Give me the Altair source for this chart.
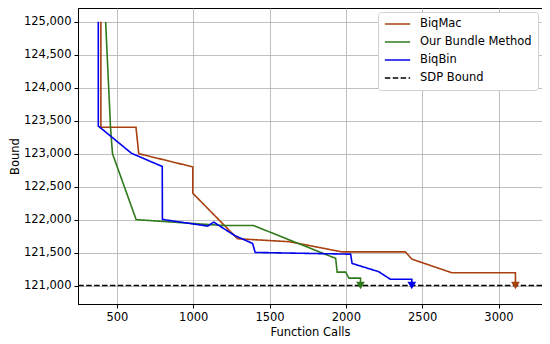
import altair as alt
import pandas as pd

series_names = ["BiqMac", "Our Bundle Method", "BiqBin", "SDP Bound"]
series_colors = ["#a8400f", "#2f7a1a", "#0000ee", "#000000"]

biqmac_x = [395, 395, 625, 643, 997, 997, 1290, 1630, 1975, 2390, 2433, 2693, 3111, 3111]
biqmac_y = [125000, 123400, 123400, 123000, 122800, 122400, 121710, 121665, 121510, 121510, 121400, 121195, 121195, 121000]

bundle_x = [426, 458, 471, 626, 1200, 1395, 1933, 1943, 1998, 2020, 2096, 2096]
bundle_y = [125000, 123400, 123000, 122000, 121910, 121910, 121412, 121203, 121203, 121112, 121112, 121000]

biqbin_x = [378, 378, 595, 797, 798, 1095, 1134, 1269, 1389, 1406, 2031, 2041, 2215, 2291, 2432, 2432]
biqbin_y = [125000, 123420, 123007, 122806, 122003, 121902, 121962, 121762, 121638, 121502, 121476, 121335, 121210, 121096, 121096, 121000]

sdp_bound = 121000

x_ticks = [500, 1000, 1500, 2000, 2500, 3000]
y_ticks = [121000, 121500, 122000, 122500, 123000, 123500, 124000, 124500, 125000]

rows = []
for name, xs, ys in [("BiqMac", biqmac_x, biqmac_y),
                     ("Our Bundle Method", bundle_x, bundle_y),
                     ("BiqBin", biqbin_x, biqbin_y)]:
    for i, (xv, yv) in enumerate(zip(xs, ys)):
        rows.append({"series": name, "x": xv, "y": yv, "order": i})
lines_df = pd.DataFrame(rows)

end_df = pd.DataFrame([
    {"series": "BiqMac", "x": biqmac_x[-1], "y": biqmac_y[-1]},
    {"series": "Our Bundle Method", "x": bundle_x[-1], "y": bundle_y[-1]},
    {"series": "BiqBin", "x": biqbin_x[-1], "y": biqbin_y[-1]},
])
sdp_df = pd.DataFrame([{"series": "SDP Bound", "y": sdp_bound}])

FONT = "DejaVu Sans"
FS = 11.5

xscale = alt.Scale(domain=[245, 3285], nice=False, zero=False)
yscale = alt.Scale(domain=[120720, 125210], nice=False, zero=False)
color_scale = alt.Scale(domain=series_names, range=series_colors)
dash_scale = alt.Scale(domain=series_names, range=[[1, 0], [1, 0], [1, 0], [5.5, 2.4]])

legend = alt.Legend(
    title=None, orient="none", legendX=300, legendY=4,
    symbolType="stroke", symbolSize=640, symbolStrokeWidth=1.6,
    labelFont=FONT, labelFontSize=FS, labelColor="#000000",
    labelOffset=9, rowPadding=6, padding=6, clipHeight=12,
    strokeColor="#d0d0d0", fillColor="#ffffff", cornerRadius=3,
)

xaxis = alt.Axis(values=x_ticks, format="d", title="Function Calls",
                 titlePadding=4, labelOverlap=False)
yaxis = alt.Axis(values=y_ticks, format=",d", title="Bound", labelOverlap=False,
                 tickCount=9, titleX=-69, titleBaseline="top", titleAngle=-90)

lines = alt.Chart(lines_df).mark_line(strokeWidth=1.6).encode(
    x=alt.X("x:Q", scale=xscale, axis=xaxis),
    y=alt.Y("y:Q", scale=yscale, axis=yaxis),
    color=alt.Color("series:N", scale=color_scale, legend=legend),
    strokeDash=alt.StrokeDash("series:N", scale=dash_scale, legend=legend),
    order="order:Q",
    detail="series:N",
)

rule = alt.Chart(sdp_df).mark_rule(strokeWidth=1.6).encode(
    y=alt.Y("y:Q", scale=yscale, axis=yaxis),
    color=alt.Color("series:N", scale=color_scale, legend=legend),
    strokeDash=alt.StrokeDash("series:N", scale=dash_scale, legend=legend),
)

markers = alt.Chart(end_df).mark_point(shape="triangle-down", filled=True, size=75, opacity=1).encode(
    x=alt.X("x:Q", scale=xscale, axis=xaxis),
    y=alt.Y("y:Q", scale=yscale, axis=yaxis),
    color=alt.Color("series:N", scale=color_scale, legend=None),
)

chart = alt.layer(lines, rule, markers).properties(
    width=464, height=296,
    autosize=alt.AutoSizeParams(type="none"),
    padding={"left": 70, "top": 0, "right": 0, "bottom": 34},
).configure_view(
    stroke="#000000", strokeWidth=1,
).configure_axis(
    labelFont=FONT, labelFontSize=FS, labelColor="#000000",
    titleFont=FONT, titleFontSize=FS, titleColor="#000000", titleFontWeight="normal",
    gridColor="#b0b0b0", gridWidth=0.8, gridOpacity=1,
    domainColor="#000000", domainWidth=1,
    tickColor="#000000", tickSize=4, tickWidth=1,
    labelPadding=3,
)

chart.save("out.html", embed_options={"renderer": "svg", "actions": False})
